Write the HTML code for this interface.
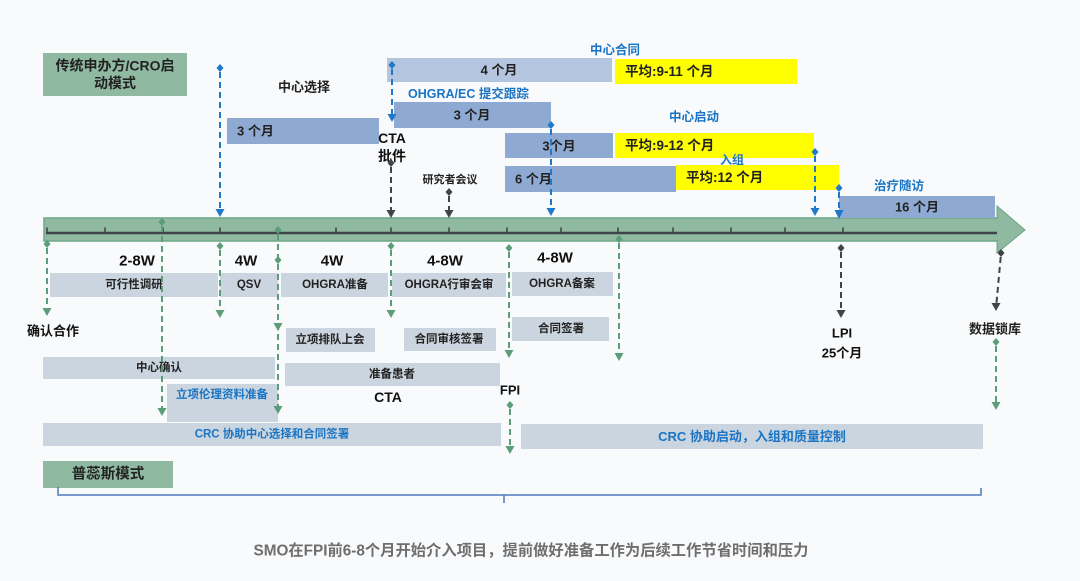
<!DOCTYPE html>
<html><head><meta charset="utf-8"><style>
html,body{margin:0;padding:0;background:#f9fafc;}
svg{display:block;}
text{font-family:"Liberation Sans","Noto Sans CJK SC",sans-serif;font-weight:bold;}
</style></head><body>
<svg width="1080" height="581" viewBox="0 0 1080 581" xmlns="http://www.w3.org/2000/svg">
<rect x="0" y="0" width="1080" height="581" fill="#f9fafc"/>

<!-- title box -->
<rect x="43" y="53" width="144" height="43" fill="#8fb9a0"/>
<text x="115" y="65.5" font-size="14" fill="#222" text-anchor="middle" dominant-baseline="central">传统申办方/CRO启</text>
<text x="115" y="83" font-size="14" fill="#222" text-anchor="middle" dominant-baseline="central">动模式</text>

<!-- top labels -->
<text x="304" y="87" font-size="13" fill="#222" text-anchor="middle" dominant-baseline="central">中心选择</text>
<rect x="227" y="118" width="152" height="26" fill="#8faad2"/>
<text x="237" y="131" font-size="13" fill="#222" dominant-baseline="central">3 个月</text>
<text x="392" y="138" font-size="14" fill="#111" text-anchor="middle" dominant-baseline="central">CTA</text>
<text x="392" y="156" font-size="14" fill="#111" text-anchor="middle" dominant-baseline="central">批件</text>

<text x="615" y="50" font-size="12.5" fill="#1a74c4" text-anchor="middle" dominant-baseline="central">中心合同</text>
<rect x="387" y="58" width="225" height="24" fill="#b4c6df"/>
<text x="499" y="70" font-size="13" fill="#222" text-anchor="middle" dominant-baseline="central">4 个月</text>
<rect x="615" y="59" width="182" height="25" fill="#ffff00"/>
<text x="625" y="71.5" font-size="13.5" fill="#222" dominant-baseline="central">平均:9-11 个月</text>

<text x="408" y="94" font-size="12.5" fill="#1a74c4" dominant-baseline="central">OHGRA/EC 提交跟踪</text>
<rect x="394" y="102" width="157" height="26" fill="#8faad2"/>
<text x="472" y="115" font-size="13" fill="#222" text-anchor="middle" dominant-baseline="central">3 个月</text>

<text x="694" y="117" font-size="12.5" fill="#1a74c4" text-anchor="middle" dominant-baseline="central">中心启动</text>
<rect x="505" y="133" width="108" height="25" fill="#8faad2"/>
<text x="559" y="146" font-size="13" fill="#222" text-anchor="middle" dominant-baseline="central">3个月</text>
<rect x="615" y="133" width="199" height="25" fill="#ffff00"/>
<text x="625" y="145.5" font-size="13.5" fill="#222" dominant-baseline="central">平均:9-12 个月</text>

<text x="732" y="160" font-size="12" fill="#1a74c4" text-anchor="middle" dominant-baseline="central">入组</text>
<rect x="505" y="166" width="171" height="26" fill="#8faad2"/>
<text x="515" y="179" font-size="13" fill="#222" dominant-baseline="central">6 个月</text>
<rect x="676" y="165" width="163" height="25" fill="#ffff00"/>
<text x="686" y="177.5" font-size="13.5" fill="#222" dominant-baseline="central">平均:12 个月</text>

<text x="450" y="180" font-size="11" fill="#222" text-anchor="middle" dominant-baseline="central">研究者会议</text>

<text x="899" y="186" font-size="12.5" fill="#1a74c4" text-anchor="middle" dominant-baseline="central">治疗随访</text>

<!-- axis bar -->
<rect x="44" y="218" width="956" height="23" fill="#8fb9a0" stroke="#6aa484" stroke-width="1.5"/>
<polygon points="997,206 1025,230 997,253" fill="#8fb9a0" stroke="#6aa484" stroke-width="1"/>
<rect x="44.8" y="218.8" width="954" height="21.5" fill="#8fb9a0"/>
<rect x="839" y="196" width="156" height="22" fill="#8faad2"/>
<text x="917" y="207" font-size="13" fill="#222" text-anchor="middle" dominant-baseline="central">16 个月</text>
<line x1="46" y1="233" x2="997" y2="233" stroke="#404448" stroke-width="2.5"/>
<g stroke="#404448" stroke-width="1.6">
<line x1="47" y1="227.5" x2="47" y2="233"/>
<line x1="105" y1="227.5" x2="105" y2="233"/>
<line x1="163" y1="227.5" x2="163" y2="233"/>
<line x1="220" y1="227.5" x2="220" y2="233"/>
<line x1="278" y1="227.5" x2="278" y2="233"/>
<line x1="336" y1="227.5" x2="336" y2="233"/>
<line x1="391" y1="227.5" x2="391" y2="233"/>
<line x1="449" y1="227.5" x2="449" y2="233"/>
<line x1="507" y1="227.5" x2="507" y2="233"/>
<line x1="561" y1="227.5" x2="561" y2="233"/>
<line x1="618" y1="227.5" x2="618" y2="233"/>
<line x1="673" y1="227.5" x2="673" y2="233"/>
<line x1="731" y1="227.5" x2="731" y2="233"/>
<line x1="785" y1="227.5" x2="785" y2="233"/>
<line x1="843" y1="227.5" x2="843" y2="233"/>
</g>

<!-- week labels -->
<text x="137" y="261" font-size="15" fill="#111" text-anchor="middle" dominant-baseline="central">2-8W</text>
<text x="246" y="261" font-size="15" fill="#111" text-anchor="middle" dominant-baseline="central">4W</text>
<text x="332" y="261" font-size="15" fill="#111" text-anchor="middle" dominant-baseline="central">4W</text>
<text x="445" y="261" font-size="15" fill="#111" text-anchor="middle" dominant-baseline="central">4-8W</text>
<text x="555" y="258" font-size="15" fill="#111" text-anchor="middle" dominant-baseline="central">4-8W</text>

<!-- gray boxes -->
<g fill="#cbd5df">
<rect x="50" y="273" width="168" height="24"/>
<rect x="220" y="273" width="58" height="24"/>
<rect x="281" y="273" width="107" height="24"/>
<rect x="392" y="273" width="114" height="24"/>
<rect x="512" y="272" width="101" height="24"/>
<rect x="512" y="317" width="97" height="24"/>
<rect x="404" y="328" width="92" height="23"/>
<rect x="286" y="328" width="89" height="24"/>
<rect x="43" y="357" width="232" height="22"/>
<rect x="167" y="384" width="111" height="38"/>
<rect x="285" y="363" width="215" height="23"/>
<rect x="43" y="423" width="458" height="23"/>
<rect x="521" y="424" width="462" height="25"/>
</g>
<g font-size="11.5" fill="#222" text-anchor="middle">
<text x="134" y="285" dominant-baseline="central">可行性调研</text>
<text x="249" y="285" dominant-baseline="central">QSV</text>
<text x="335" y="285" dominant-baseline="central">OHGRA准备</text>
<text x="449" y="285" dominant-baseline="central">OHGRA行审会审</text>
<text x="562" y="284" dominant-baseline="central">OHGRA备案</text>
<text x="561" y="329" dominant-baseline="central">合同签署</text>
<text x="449" y="339.5" dominant-baseline="central">合同审核签署</text>
<text x="330" y="340" dominant-baseline="central">立项排队上会</text>
<text x="159" y="368" dominant-baseline="central">中心确认</text>
<text x="392" y="374.5" dominant-baseline="central">准备患者</text>
</g>
<text x="222" y="395" font-size="11.5" fill="#1a74c4" text-anchor="middle" dominant-baseline="central">立项伦理资料准备</text>
<text x="272" y="434.5" font-size="11.5" fill="#1a74c4" text-anchor="middle" dominant-baseline="central">CRC 协助中心选择和合同签署</text>
<text x="752" y="436.5" font-size="13" fill="#1a74c4" text-anchor="middle" dominant-baseline="central">CRC 协助启动，入组和质量控制</text>

<text x="53" y="331" font-size="13" fill="#111" text-anchor="middle" dominant-baseline="central">确认合作</text>
<text x="388" y="397" font-size="14" fill="#111" text-anchor="middle" dominant-baseline="central">CTA</text>
<text x="510" y="390" font-size="13" fill="#111" text-anchor="middle" dominant-baseline="central">FPI</text>
<text x="842" y="333" font-size="13" fill="#111" text-anchor="middle" dominant-baseline="central">LPI</text>
<text x="842" y="353" font-size="13" fill="#111" text-anchor="middle" dominant-baseline="central">25个月</text>
<text x="995" y="329" font-size="13" fill="#222" text-anchor="middle" dominant-baseline="central">数据锁库</text>

<rect x="43" y="461" width="130" height="27" fill="#8fb9a0"/>
<text x="108" y="474.5" font-size="14.5" fill="#222" text-anchor="middle" dominant-baseline="central">普蕊斯模式</text>

<path d="M58 487 V495 H981 V488" fill="none" stroke="#4f78bd" stroke-width="1.5"/>
<line x1="504" y1="495" x2="504" y2="503" stroke="#4f78bd" stroke-width="1.5"/>

<text x="531" y="551" font-size="15.3" fill="#6e6e6e" text-anchor="middle" dominant-baseline="central">SMO在FPI前6-8个月开始介入项目，提前做好准备工作为后续工作节省时间和压力</text>

<!-- blue connectors -->
<g stroke="#1f78c8" stroke-width="2" stroke-dasharray="6 4">
<line x1="220" y1="72" x2="220" y2="210"/>
<line x1="392" y1="69" x2="392" y2="115"/>
<line x1="551" y1="129" x2="551" y2="209"/>
<line x1="815" y1="156" x2="815" y2="209"/>
<line x1="839" y1="192" x2="839" y2="212"/>
</g>
<g fill="#1f78c8">
<polygon points="220,64 223.5,68 220,72 216.5,68"/><polygon points="215.5,209 224.5,209 220,217"/>
<polygon points="392,61 395.5,65 392,69 388.5,65"/><polygon points="387.5,114 396.5,114 392,122"/>
<polygon points="551,121 554.5,125 551,129 547.5,125"/><polygon points="546.5,208 555.5,208 551,216"/>
<polygon points="815,148 818.5,152 815,156 811.5,152"/><polygon points="810.5,208 819.5,208 815,216"/>
<polygon points="839,184 842.5,188 839,192 835.5,188"/><polygon points="834.5,210 843.5,210 839,219"/>
</g>

<!-- dark connectors -->
<g stroke="#404448" stroke-width="2" stroke-dasharray="6 4">
<line x1="391" y1="167" x2="391" y2="211"/>
<line x1="449" y1="196" x2="449" y2="211"/>
<line x1="841" y1="252" x2="841" y2="311"/>
<line x1="1000.7" y1="257" x2="996.4" y2="304"/>
</g>
<g fill="#404448">
<polygon points="391,159 394.5,163 391,167 387.5,163"/><polygon points="386.5,210 395.5,210 391,218"/>
<polygon points="449,188 452.5,192 449,196 445.5,192"/><polygon points="444.5,210 453.5,210 449,218"/>
<polygon points="841,244 844.5,248 841,252 837.5,248"/><polygon points="836.5,310 845.5,310 841,318"/>
<polygon points="1001,249 1004.5,253 1001,257 997.5,253"/><polygon points="991.5,303 1000.5,303 996,311"/>
</g>

<!-- green connectors -->
<g stroke="#5a9d78" stroke-width="2" stroke-dasharray="6 4">
<line x1="47" y1="248" x2="47" y2="309"/>
<line x1="162" y1="226" x2="162" y2="409"/>
<line x1="220" y1="250" x2="220" y2="311"/>
<line x1="278" y1="234" x2="278" y2="324"/>
<line x1="278" y1="264" x2="278" y2="407"/>
<line x1="391" y1="250" x2="391" y2="311"/>
<line x1="509" y1="252" x2="509" y2="351"/>
<line x1="619" y1="243" x2="619" y2="354"/>
<line x1="510" y1="409" x2="510" y2="447"/>
<line x1="996" y1="346" x2="996" y2="403"/>
</g>
<g fill="#5a9d78">
<polygon points="47,240 50.5,244 47,248 43.5,244"/><polygon points="42.5,308 51.5,308 47,316"/>
<polygon points="162,218 165.5,222 162,226 158.5,222"/><polygon points="157.5,408 166.5,408 162,416"/>
<polygon points="220,242 223.5,246 220,250 216.5,246"/><polygon points="215.5,310 224.5,310 220,318"/>
<polygon points="278,226 281.5,230 278,234 274.5,230"/><polygon points="273.5,323 282.5,323 278,331"/>
<polygon points="278,256 281.5,260 278,264 274.5,260"/><polygon points="273.5,406 282.5,406 278,414"/>
<polygon points="391,242 394.5,246 391,250 387.5,246"/><polygon points="386.5,310 395.5,310 391,318"/>
<polygon points="509,244 512.5,248 509,252 505.5,248"/><polygon points="504.5,350 513.5,350 509,358"/>
<polygon points="619,235 622.5,239 619,243 615.5,239"/><polygon points="614.5,353 623.5,353 619,361"/>
<polygon points="510,401 513.5,405 510,409 506.5,405"/><polygon points="505.5,446 514.5,446 510,454"/>
<polygon points="996,338 999.5,342 996,346 992.5,342"/><polygon points="991.5,402 1000.5,402 996,410"/>
</g>
</svg>
</body></html>
